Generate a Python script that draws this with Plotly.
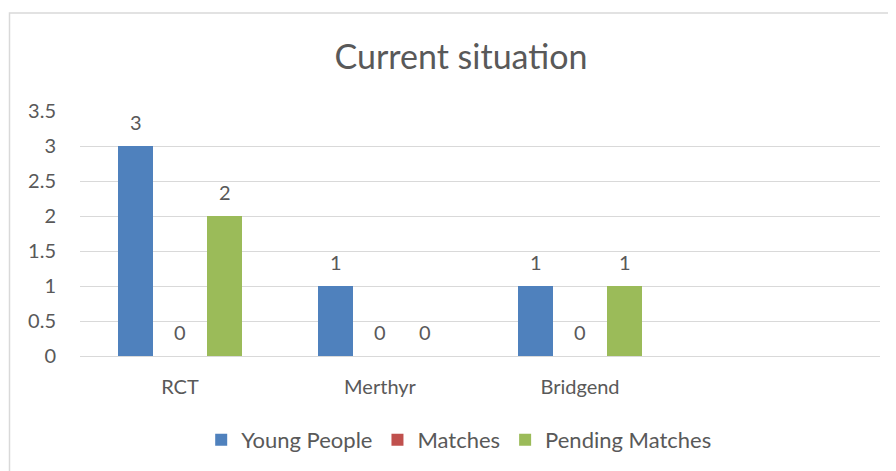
import plotly.graph_objects as go

categories = ["RCT", "Merthyr", "Bridgend"]
young_people = [3, 1, 1]
matches = [0, 0, 0]
pending_matches = [2, 0, 1]
series_names = ["Young People", "Matches", "Pending Matches"]
y_ticks = [0, 0.5, 1, 1.5, 2, 2.5, 3, 3.5]
y_tick_labels = ["0", "0.5", "1", "1.5", "2", "2.5", "3", "3.5"]

colors = ["#4F81BD", "#C0504D", "#9BBB59"]
text_color = "#595959"
FONT = "Lato, 'Open Sans', sans-serif"

# layout geometry (figure is placed 8px in from the page corner)
L, T, PW, PH = 72, 103, 800, 245
W, H = 896, 471
BARGAP, GROUPGAP = 0.3325, 0.2135
n_slots_cat = 4  # axis spans 4 category widths (last one empty)
cat_px = PW / n_slots_cat
slot_px = cat_px * (1 - BARGAP) / len(series_names)

fig = go.Figure()
all_vals = [young_people, matches, pending_matches]
for name, vals, col in zip(series_names, all_vals, colors):
    fig.add_trace(go.Bar(
        name=name, x=categories, y=vals,
        marker=dict(color=col, line=dict(width=0)),
        cliponaxis=False,
    ))

annotations = []
for si, vals in enumerate(all_vals):
    shift = (si - (len(series_names) - 1) / 2) * slot_px
    for cat, v in zip(categories, vals):
        annotations.append(dict(
            x=cat, y=v, xref="x", yref="y", text=str(v), showarrow=False,
            xshift=shift, yshift=24, yanchor="middle", xanchor="center",
            font=dict(family=FONT, size=20, color=text_color),
        ))

fig.update_layout(
    width=W, height=H,
    margin=dict(l=L, r=W - L - PW, t=T, b=H - T - PH),
    paper_bgcolor="white", plot_bgcolor="white",
    barmode="group", bargap=BARGAP, bargroupgap=GROUPGAP,
    font=dict(family=FONT, color=text_color, size=20),
    title=dict(text="Current situation", x=453 / W, xref="container", xanchor="center",
               y=1 - 49 / H, yref="container", yanchor="middle",
               font=dict(family=FONT, size=34, color=text_color)),
    legend=dict(orientation="h", x=0.474, xanchor="center", y=-0.343, yanchor="middle",
                font=dict(family=FONT, size=22, color=text_color),
                itemwidth=30, traceorder="normal"),
    showlegend=True,
    annotations=annotations,
    shapes=[dict(type="rect", xref="paper", yref="paper",
                 x0=(9.5 - 8 - L) / PW, x1=1.2, y0=-2, y1=(PH + T - 13 + 8) / PH,
                 line=dict(color="#D9D9D9", width=1.5), layer="below")],
)
fig.update_xaxes(range=[-0.5, n_slots_cat - 0.5], showgrid=False, showline=False, zeroline=False,
                 ticks="", ticklabelstandoff=17,
                 tickfont=dict(family=FONT, size=20, color=text_color))
fig.update_yaxes(range=[0, 3.5], tickvals=y_ticks, ticktext=y_tick_labels,
                 showgrid=True, gridcolor="#D9D9D9", gridwidth=1,
                 zeroline=True, zerolinecolor="#D9D9D9", zerolinewidth=1,
                 showline=False, ticks="", ticklabelstandoff=23,
                 tickfont=dict(family=FONT, size=20, color=text_color))

fig.write_html("out.html")
